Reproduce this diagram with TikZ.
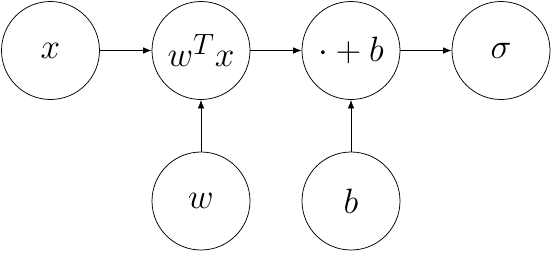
\documentclass[tikz,border=0pt]{standalone}
\usetikzlibrary{arrows.meta}
\newcommand\unitlbl[1]{\scalebox{1.42}{\Huge$#1$}}
\begin{document}
\begin{tikzpicture}[x=1bp,y=-1bp,
  unit/.style={circle,draw,line width=0.75bp,minimum size=98bp,inner sep=0pt},
  conn/.style={line width=0.75bp,-{Latex[length=8.5bp,width=6.5bp]}}]
\useasboundingbox (0,0) rectangle (552,252);
\node[unit] (x) at (50.5,50.5) {\unitlbl{x}};
\node[unit] (wx) at (201,50.5) {\unitlbl{w^Tx}};
\node[unit] (pb) at (351,50.5) {\unitlbl{\cdot+b}};
\node[unit] (s) at (501,50.5) {\unitlbl{\sigma}};
\node[unit] (w) at (201,201) {\unitlbl{w}};
\node[unit] (b) at (351,201) {\unitlbl{b}};
\draw[conn] (x) -- (wx);
\draw[conn] (wx) -- (pb);
\draw[conn] (pb) -- (s);
\draw[conn] (w) -- (wx);
\draw[conn] (b) -- (pb);
\end{tikzpicture}
\end{document}
